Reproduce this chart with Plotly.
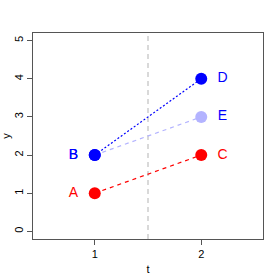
import plotly.graph_objects as go

# data
t_start = [1, 1, 1]
t_end = [2, 2, 2]
y_start = [1, 2, 2]
y_end = [2, 4, 3]
start_labels = ["A", "B", "B"]
end_labels = ["C", "D", "E"]
line_colors = ["#ff0000", "#0000ff", "#b3b3ff"]
end_point_colors = ["#ff0000", "#0000ff", "#b3b3ff"]
start_point_colors = ["#ff0000", "#0000ff", "#0000ff"]
text_colors = ["#ff0000", "#0000ff", "#0000ff"]
line_dashes = ["4px,4px", "2px,2px", "4px,4px"]
split_t = 1.5
label_offset = 0.2
x_ticks = [1, 2]
y_ticks = [0, 1, 2, 3, 4, 5]

fig = go.Figure()
fig.add_vline(x=split_t, line=dict(color="#d9d9d9", width=2, dash="5px,4px"), layer="below")

for i in range(3):
    fig.add_trace(go.Scatter(x=[t_start[i], t_end[i]], y=[y_start[i], y_end[i]], mode="lines",
                             line=dict(color=line_colors[i], width=1.2, dash=line_dashes[i]),
                             showlegend=False, hoverinfo="skip"))
for i in range(3):
    fig.add_trace(go.Scatter(x=[t_end[i]], y=[y_end[i]], mode="markers",
                             marker=dict(color=end_point_colors[i], size=12), showlegend=False))
    fig.add_trace(go.Scatter(x=[t_start[i]], y=[y_start[i]], mode="markers",
                             marker=dict(color=start_point_colors[i], size=12), showlegend=False))
    fig.add_trace(go.Scatter(x=[t_end[i] + label_offset], y=[y_end[i]], mode="text",
                             text=[end_labels[i]], textfont=dict(color=text_colors[i], size=14),
                             showlegend=False))
    fig.add_trace(go.Scatter(x=[t_start[i] - label_offset], y=[y_start[i]], mode="text",
                             text=[start_labels[i]], textfont=dict(color=text_colors[i], size=14),
                             showlegend=False))

axis_common = dict(showgrid=False, zeroline=False, showline=True, linecolor="#555555", linewidth=1,
                   mirror=True, ticks="outside", ticklen=5, tickcolor="#555555", automargin=False,
                   tickfont=dict(size=11, color="#000000"))
fig.update_xaxes(range=[0.42, 2.58], tickvals=x_ticks, title=dict(text="t", font=dict(size=11), standoff=6),
                 **axis_common)
fig.update_yaxes(range=[-0.2, 5.2], tickvals=y_ticks, tickangle=-90,
                 title=dict(text="y", font=dict(size=11), standoff=5), **axis_common)
fig.update_layout(width=280, height=280, margin=dict(l=33, r=17, t=33, b=41),
                  plot_bgcolor="white", paper_bgcolor="white",
                  font=dict(family="Liberation Sans, Arial, sans-serif", color="#000000"))
fig.write_html("out.html", config={"displayModeBar": False},
               post_script="document.body.style.margin='0px';")
